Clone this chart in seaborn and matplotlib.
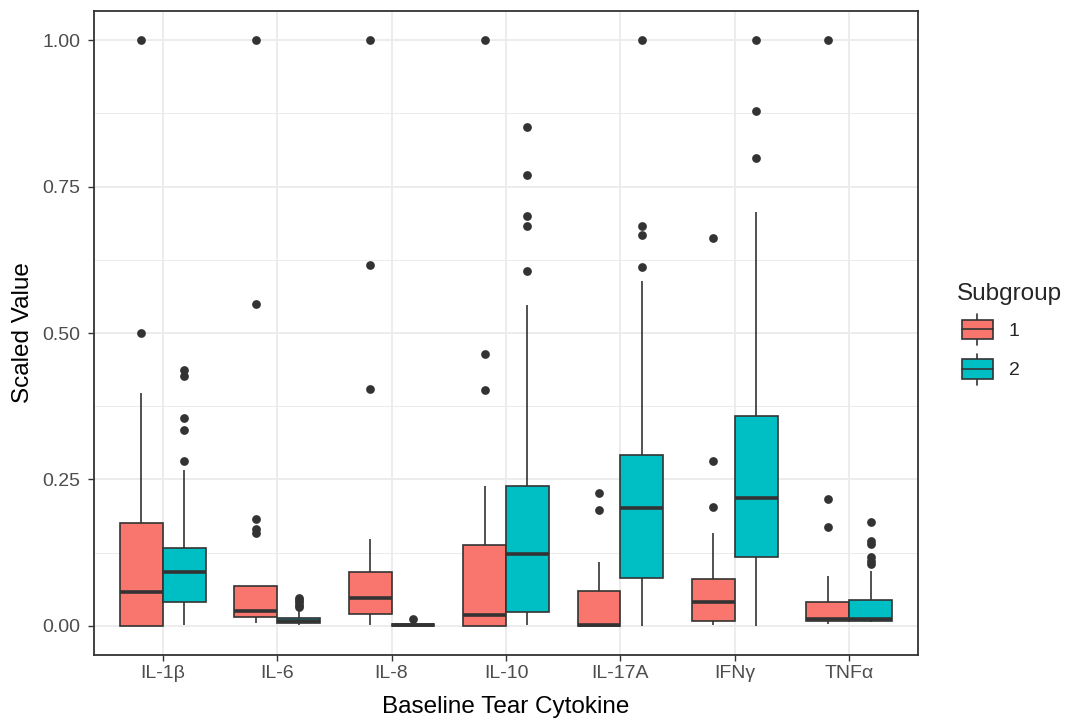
import matplotlib
matplotlib.use("Agg")
import numpy as np
import pandas as pd
import matplotlib.pyplot as plt
import seaborn as sns
from matplotlib.patches import Patch, Rectangle
from matplotlib.lines import Line2D
from matplotlib.legend_handler import HandlerBase
from matplotlib.ticker import MultipleLocator, FormatStrFormatter

# ---------------- data ----------------
cytokines = ["IL-1β", "IL-6", "IL-8", "IL-10", "IL-17A", "IFNγ", "TNFα"]
subgroups = ["1", "2"]

# Subgroup 1 : five-number summaries (lower whisker, Q1, median, Q3, upper whisker)
g1_low = [0.000, 0.005, 0.002, 0.000, 0.000, 0.002, 0.003]
g1_q1 = [0.000, 0.0144, 0.020, 0.000, 0.000, 0.0086, 0.0087]
g1_med = [0.058, 0.026, 0.048, 0.019, 0.002, 0.040, 0.0116]
g1_q3 = [0.176, 0.068, 0.091, 0.1385, 0.059, 0.0793, 0.0407]
g1_high = [0.398, 0.068, 0.148, 0.2385, 0.109, 0.159, 0.0843]
g1_out = [
    [0.500, 1.000],
    [0.158, 0.165, 0.182, 0.549, 1.000],
    [0.405, 0.616, 1.000],
    [0.403, 0.464, 1.000],
    [0.197, 0.226],
    [0.203, 0.282, 0.662],
    [0.169, 0.216, 1.000],
]

# Subgroup 2
g2_low = [0.002, 0.001, 0.000, 0.002, 0.000, 0.000, 0.006]
g2_q1 = [0.041, 0.004, 0.000, 0.024, 0.0816, 0.1178, 0.0087]
g2_med = [0.0925, 0.008, 0.001, 0.1224, 0.2017, 0.219, 0.0116]
g2_q3 = [0.132, 0.014, 0.003, 0.238, 0.291, 0.3586, 0.0436]
g2_high = [0.266, 0.025, 0.005, 0.547, 0.588, 0.7067, 0.094]
g2_out = [
    [0.282, 0.335, 0.355, 0.427, 0.437],
    [0.032, 0.036, 0.040, 0.044, 0.047],
    [0.0115],
    [0.6065, 0.683, 0.700, 0.770, 0.8514],
    [0.613, 0.668, 0.683, 1.000],
    [0.799, 0.880, 1.000],
    [0.105, 0.111, 0.117, 0.139, 0.144, 0.178],
]

# Build a long table whose quartiles / whiskers reproduce the read summaries
# (each summary value is repeated so that the percentile positions fall on it).
REP = 20
rows = []
for sg, lo, q1, md, q3, hi, outs in [
    ("1", g1_low, g1_q1, g1_med, g1_q3, g1_high, g1_out),
    ("2", g2_low, g2_q1, g2_med, g2_q3, g2_high, g2_out),
]:
    for i, cyt in enumerate(cytokines):
        vals = [lo[i]] + [q1[i]] * REP + [md[i]] * REP + [q3[i]] * REP + [hi[i]] + list(outs[i])
        for v in vals:
            rows.append({"Cytokine": cyt, "Subgroup": sg, "Value": v})
df = pd.DataFrame(rows)

# ---------------- style ----------------
sns.set_theme(style="white")
plt.rcParams["font.family"] = ["Liberation Sans", "DejaVu Sans"]

red = "#F8766D"
teal = "#00BFC4"
dark = "#333333"

fig = plt.figure(figsize=(10.79, 7.2), dpi=100)
ax = fig.add_axes([94 / 1079, 1 - 655 / 720, (918 - 94) / 1079, (655 - 11) / 720])

sns.boxplot(
    data=df, x="Cytokine", y="Value", hue="Subgroup",
    order=cytokines, hue_order=subgroups,
    palette=[red, teal], saturation=1,
    width=0.75, gap=0, dodge=True,
    linecolor=dark, linewidth=1.2,
    medianprops=dict(color=dark, linewidth=2.6),
    whiskerprops=dict(color=dark, linewidth=1.2),
    flierprops=dict(marker="o", markerfacecolor=dark, markeredgecolor=dark,
                    markersize=6.3, markeredgewidth=0),
    showcaps=False, legend=False, ax=ax,
)

ax.set_xlim(-0.6, 6.6)
ax.set_ylim(-0.05, 1.05)
ax.yaxis.set_major_locator(MultipleLocator(0.25))
ax.yaxis.set_minor_locator(MultipleLocator(0.125))
ax.yaxis.set_major_formatter(FormatStrFormatter("%.2f"))
ax.set_axisbelow(True)
ax.grid(which="major", axis="both", color="#EBEBEB", linewidth=1.3)
ax.grid(which="minor", axis="y", color="#EBEBEB", linewidth=0.7)

for sp in ax.spines.values():
    sp.set_color(dark)
    sp.set_linewidth(1.3)

ax.tick_params(axis="both", which="major", length=4, width=1.0, color=dark,
               labelsize=14, labelcolor="#4D4D4D", bottom=True, left=True)
ax.tick_params(axis="y", which="major", pad=6)
ax.tick_params(axis="x", which="major", pad=3.5)
ax.tick_params(which="minor", length=0)

ax.set_xlabel("Baseline Tear Cytokine", fontsize=17.5, color="black", labelpad=10)
ax.set_ylabel("Scaled Value", fontsize=17.5, color="black", labelpad=6)


# ---------------- legend with boxplot-like keys ----------------
class BoxKey(HandlerBase):
    def create_artists(self, legend, orig_handle, xdescent, ydescent,
                       width, height, fontsize, trans):
        fc = orig_handle.get_facecolor()
        off = 3.6
        x0, y0 = -xdescent + off, -ydescent
        w = width - off
        bh = height * 0.64
        by = y0 + (height - bh) / 2
        cx = x0 + w / 2
        wl = Line2D([cx, cx], [y0, by], color=dark, lw=1.2, transform=trans)
        wh = Line2D([cx, cx], [by + bh, y0 + height], color=dark, lw=1.2, transform=trans)
        rect = Rectangle((x0, by), w, bh, facecolor=fc, edgecolor=dark,
                         lw=1.2, transform=trans)
        med = Line2D([x0, x0 + w], [by + bh / 2] * 2, color=dark, lw=1.2,
                     transform=trans)
        return [wl, wh, rect, med]


handles = [Patch(facecolor=red), Patch(facecolor=teal)]
leg = ax.legend(
    handles=handles, labels=subgroups, title="Subgroup",
    handler_map={Patch: BoxKey()},
    loc="upper left", bbox_to_anchor=(957 / 1079, 1 - 283 / 720),
    bbox_transform=fig.transFigure, frameon=False,
    fontsize=14, title_fontsize=17.5, alignment="left",
    handlelength=1.85, handleheight=2.07, labelspacing=0.46,
    handletextpad=0.8, borderpad=0, borderaxespad=0,
)

fig.savefig("out.png", dpi=100)
